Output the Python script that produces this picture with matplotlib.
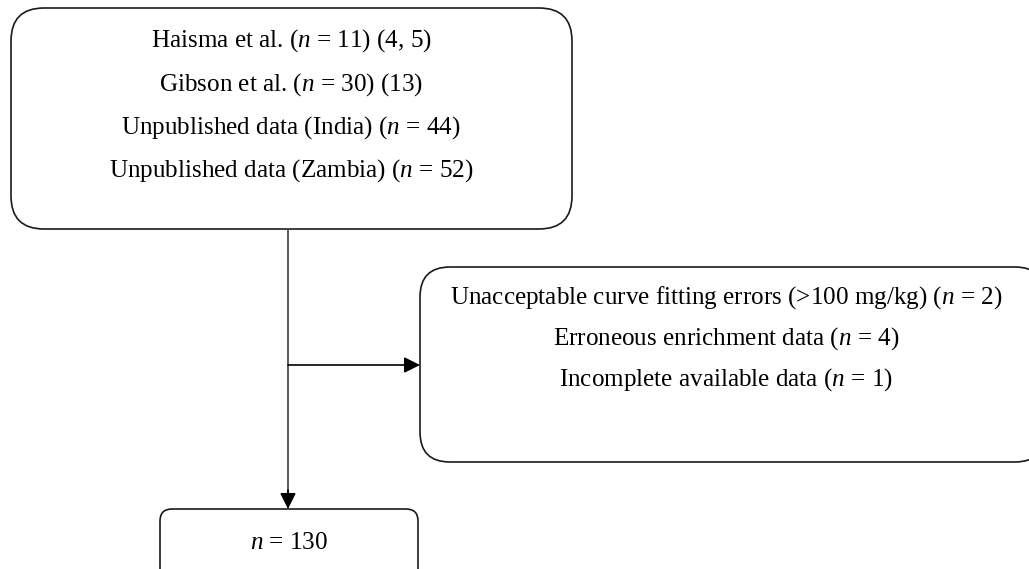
import matplotlib
matplotlib.use("Agg")
import matplotlib.pyplot as plt
from matplotlib.patches import FancyBboxPatch

plt.rcParams['font.family'] = ['Liberation Serif', 'DejaVu Serif']
plt.rcParams['mathtext.fontset'] = 'custom'
plt.rcParams['mathtext.rm'] = 'Liberation Serif'
plt.rcParams['mathtext.it'] = 'Liberation Serif:italic'

# Flowchart content
sources = [
    "Haisma et al. ($n$ = 11) (4, 5)",
    "Gibson et al. ($n$ = 30) (13)",
    "Unpublished data (India) ($n$ = 44)",
    "Unpublished data (Zambia) ($n$ = 52)",
]
exclusions = [
    "Unacceptable curve fitting errors (>100 mg/kg) ($n$ = 2)",
    "Erroneous enrichment data ($n$ = 4)",
    "Incomplete available data ($n$ = 1)",
]
final = ["$n$ = 130"]

W, H = 1029, 569
fig = plt.figure(figsize=(W / 100, H / 100), dpi=100)
ax = fig.add_axes([0, 0, 1, 1])
ax.set_xlim(0, W)
ax.set_ylim(H, 0)
ax.axis('off')

FS = 18.1
edge = '#1a1a1a'

def box(x0, y0, x1, y1, r):
    p = FancyBboxPatch((x0, y0), x1 - x0, y1 - y0,
                       boxstyle=f"round,pad=0,rounding_size={r}",
                       fc='white', ec=edge, lw=1.2, clip_on=True)
    ax.add_patch(p)

# Box 1: sources
box(11, 8, 572, 229, 33)
for y, t in zip([41, 85, 128, 171], sources):
    ax.text(291, y, t, ha='center', va='center', fontsize=FS)

# Box 2: exclusions
box(420, 267, 1045, 462, 30)
for y, t in zip([298, 339, 380], exclusions):
    ax.text(726, y, t, ha='center', va='center', fontsize=FS)

# Box 3: final
box(160, 509, 418, 600, 12)
ax.text(289, 543, final[0], ha='center', va='center', fontsize=FS)

# Connectors
ax.plot([288, 288], [229, 495], color='#4d4d4d', lw=1.3)
ax.annotate('', xy=(288, 509), xytext=(288, 490),
            arrowprops=dict(arrowstyle='-|>', mutation_scale=24, color='black',
                            lw=1.2, shrinkA=0, shrinkB=0))
ax.annotate('', xy=(420, 365), xytext=(288, 365),
            arrowprops=dict(arrowstyle='-|>', mutation_scale=24, color='black',
                            lw=1.2, shrinkA=0, shrinkB=0))

fig.savefig('out.png', dpi=100)
